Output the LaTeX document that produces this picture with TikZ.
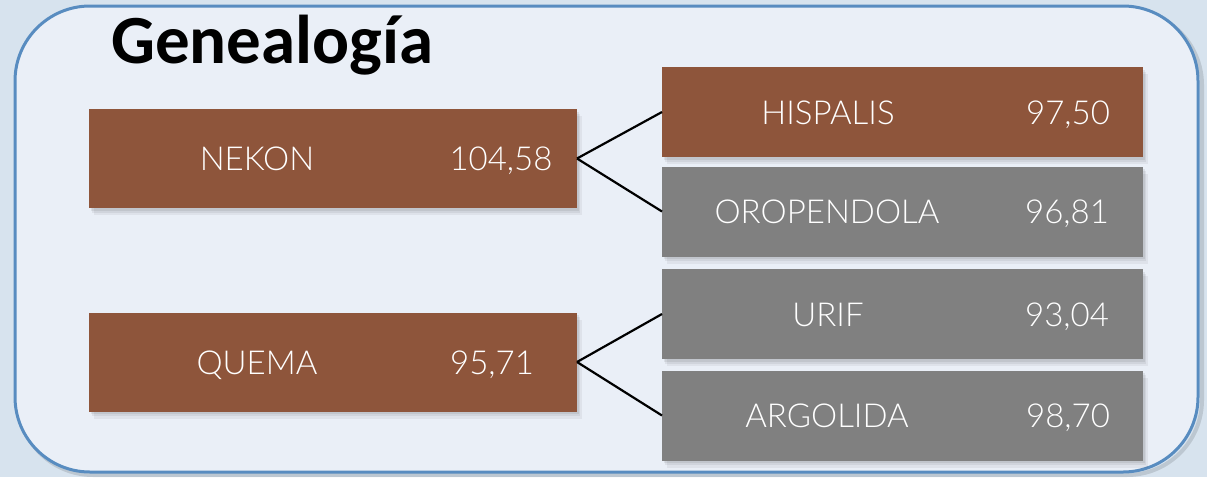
\documentclass[tikz,border=0pt]{standalone}
\usepackage{fontspec}
\newfontfamily\boxfont{Lato Light}
\newfontfamily\titlefont{Carlito}
\usetikzlibrary{shadows}
\definecolor{outerbg}{RGB}{215,227,238}
\definecolor{innerbg}{RGB}{234,239,247}
\definecolor{framecol}{RGB}{88,140,192}
\definecolor{brownbox}{RGB}{142,85,59}
\definecolor{graybox}{RGB}{128,128,128}
\tikzset{
  boxbase/.style={rectangle, inner sep=0pt, outer sep=0pt, minimum height=90pt,
    drop shadow={shadow xshift=5pt, shadow yshift=-7pt, opacity=0.05, fill=black},
    drop shadow={shadow xshift=3pt, shadow yshift=-4.5pt, opacity=0.06, fill=black},
    drop shadow={shadow xshift=1.5pt, shadow yshift=-2.5pt, opacity=0.07, fill=black}},
  parentbox/.style={boxbase, fill=brownbox, minimum width=488pt, minimum height=99pt},
  childbrown/.style={boxbase, fill=brownbox, minimum width=481pt},
  childgray/.style={boxbase, fill=graybox, minimum width=481pt},
  lbl/.style={anchor=base, inner sep=0pt, text=white, font=\boxfont\fontsize{33}{39}\selectfont},
  conn/.style={draw=black, line width=2.2pt},
}
\begin{document}
\begin{tikzpicture}[x=1pt, y=-1pt]
\useasboundingbox (0,0) rectangle (1207,477);
\fill[outerbg] (0,0) rectangle (1207,477);
% frame shadow and frame
\draw[line width=4pt, black, opacity=0.12, rounded corners=75pt] (18,10) rectangle (1202,475);
\draw[line width=3pt, draw=framecol, fill=innerbg, rounded corners=75pt] (15,6) rectangle (1198,472);
% title
\node[anchor=base west, inner sep=0pt, font=\titlefont\bfseries\fontsize{69}{72}\selectfont] (title) at (111,63) {Genealogía};
% boxes
\node[parentbox] (nekon) at (333,158.5) {};
\node[parentbox] (quema) at (333,362) {};
\node[childbrown] (hispalis) at (902.5,112) {};
\node[childgray] (oropendola) at (902.5,211.5) {};
\node[childgray] (urif) at (902.5,314) {};
\node[childgray] (argolida) at (902.5,415.5) {};
% labels
\node[lbl] (nekonname) at (257,170.5) {NEKON};
\node[lbl] (nekonval) at (501,170.5) {104,58};
\node[lbl] (quemaname) at (257,374) {QUEMA};
\node[lbl] (quemaval) at (492,374) {95,71};
\node[lbl] (hispalisname) at (828,124) {HISPALIS};
\node[lbl] (hispalisval) at (1068,124) {97,50};
\node[lbl] (oropendolaname) at (827,223.5) {OROPENDOLA};
\node[lbl] (oropendolaval) at (1067,223.5) {96,81};
\node[lbl] (urifname) at (828,326) {URIF};
\node[lbl] (urifval) at (1067,326) {93,04};
\node[lbl] (argolidaname) at (827,427.5) {ARGOLIDA};
\node[lbl] (argolidaval) at (1068,427.5) {98,70};
% connectors
\draw[conn] (nekon.east) -- (hispalis.west);
\draw[conn] (nekon.east) -- (oropendola.west);
\draw[conn] (quema.east) -- (urif.west);
\draw[conn] (quema.east) -- (argolida.west);
\end{tikzpicture}
\end{document}
